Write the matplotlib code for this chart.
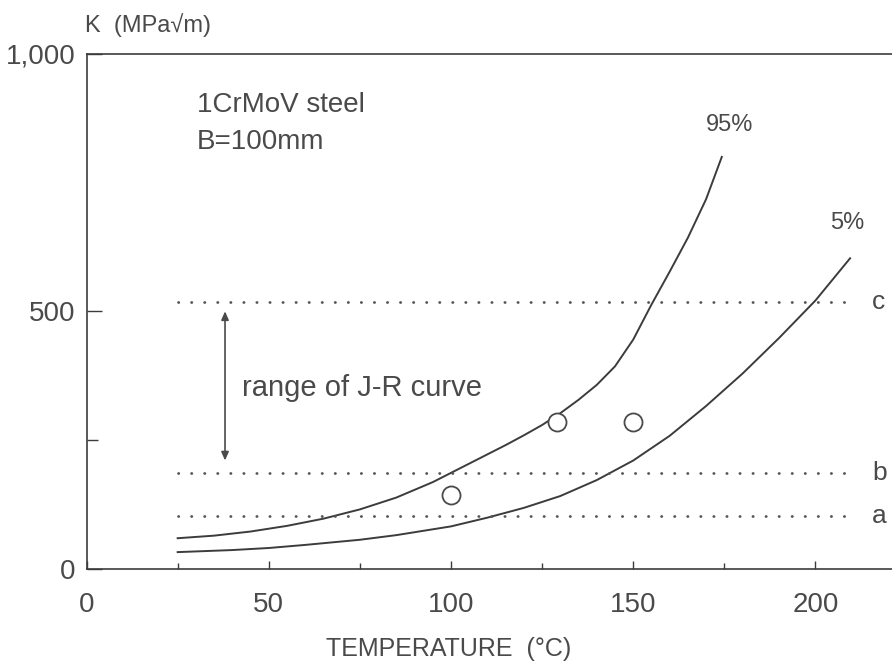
import numpy as np
import matplotlib
matplotlib.use("Agg")
import matplotlib.pyplot as plt
from matplotlib.ticker import FixedLocator

plt.rcParams["font.family"] = ["Liberation Sans", "DejaVu Sans"]

# Fracture toughness scatter band, 1CrMoV steel
temp_95 = [25, 35, 45, 55, 65, 75, 85, 95, 105, 115, 120, 125, 130, 135,
           140, 145, 150, 155, 160, 165, 170, 174.3]
k_95 = [59, 64, 72, 83, 97, 115, 138, 168, 204, 240, 259, 279, 302, 328,
        357, 393, 445, 513, 577, 643, 718, 800]

temp_5 = [25, 40, 50, 60, 75, 85, 100, 110, 120, 130, 140, 150, 160, 170,
          180, 190, 200, 209.5]
k_5 = [32, 36, 40, 46, 56, 65, 82, 99, 118, 141, 172, 210, 258, 316,
       379, 448, 521, 603]

test_temp = [100, 129, 150]
test_k = [143, 285, 284]

# reference levels
level_names = ["a", "b", "c"]
level_k = [102, 186, 518]

ink = "#3c3c3c"
soft = "#4a4a4a"

fig = plt.figure(figsize=(8.92, 6.64), dpi=100)
ax = fig.add_axes([0.097, 0.1437, 0.903, 0.775])

ax.plot(temp_95, k_95, color=ink, lw=1.4)
ax.plot(temp_5, k_5, color=ink, lw=1.4)
ax.plot(test_temp, test_k, "o", ms=13, mfc="white", mec=soft, mew=1.3)

for name, k in zip(level_names, level_k):
    ax.plot([25, 209], [k, k], color="#555555", lw=2.0,
            linestyle=(0, (0.1, 4.6)), dash_capstyle="round")
    ax.text(215.5, k, name, fontsize=19, color=soft, ha="left", va="center")

ax.annotate("", xy=(38, 500), xytext=(38, 210),
            arrowprops=dict(arrowstyle="<|-|>,head_length=0.5,head_width=0.22",
                            color=soft, lw=1.2, shrinkA=0, shrinkB=0))
ax.text(42.7, 351, "range of J-R curve", fontsize=21, color=soft,
        ha="left", va="center")

ax.text(30.3, 900, "1CrMoV steel", fontsize=20, color=soft, ha="left", va="center")
ax.text(30.3, 829, "B=100mm", fontsize=20, color=soft, ha="left", va="center")
ax.text(176.5, 862, "95%", fontsize=17, color=soft, ha="center", va="center")
ax.text(208.6, 672, "5%", fontsize=17, color=soft, ha="center", va="center")

ax.set_xlim(0, 221)
ax.set_ylim(0, 1000)
ax.spines["right"].set_visible(False)
for s in ["left", "top", "bottom"]:
    ax.spines[s].set_color(ink)
    ax.spines[s].set_linewidth(1.2)

ax.set_xticks([0, 50, 100, 150, 200])
ax.xaxis.set_minor_locator(FixedLocator([25, 75, 125, 175]))
ax.set_yticks([0, 500, 1000])
ax.set_yticklabels(["0", "500", "1,000"])
ax.yaxis.set_minor_locator(FixedLocator([250]))

ax.tick_params(axis="x", which="major", direction="in", length=6, width=1,
               color=ink, labelsize=20, labelcolor=soft, pad=17)
ax.tick_params(axis="x", which="minor", direction="in", length=4, width=1, color=ink)
ax.tick_params(axis="y", which="major", direction="in", length=11, width=1,
               color=ink, labelsize=20, labelcolor=soft, pad=8)
ax.tick_params(axis="y", which="minor", direction="in", length=8, width=1, color=ink)

ax.set_xlabel("TEMPERATURE  (°C)", fontsize=18, color=soft)
ax.xaxis.set_label_coords(0.449, -0.132)
fig.text(85 / 892, 1 - 25 / 664, "K  (MPa√m)", fontsize=17, color=soft,
         ha="left", va="center")

fig.savefig("out.png", dpi=100)
